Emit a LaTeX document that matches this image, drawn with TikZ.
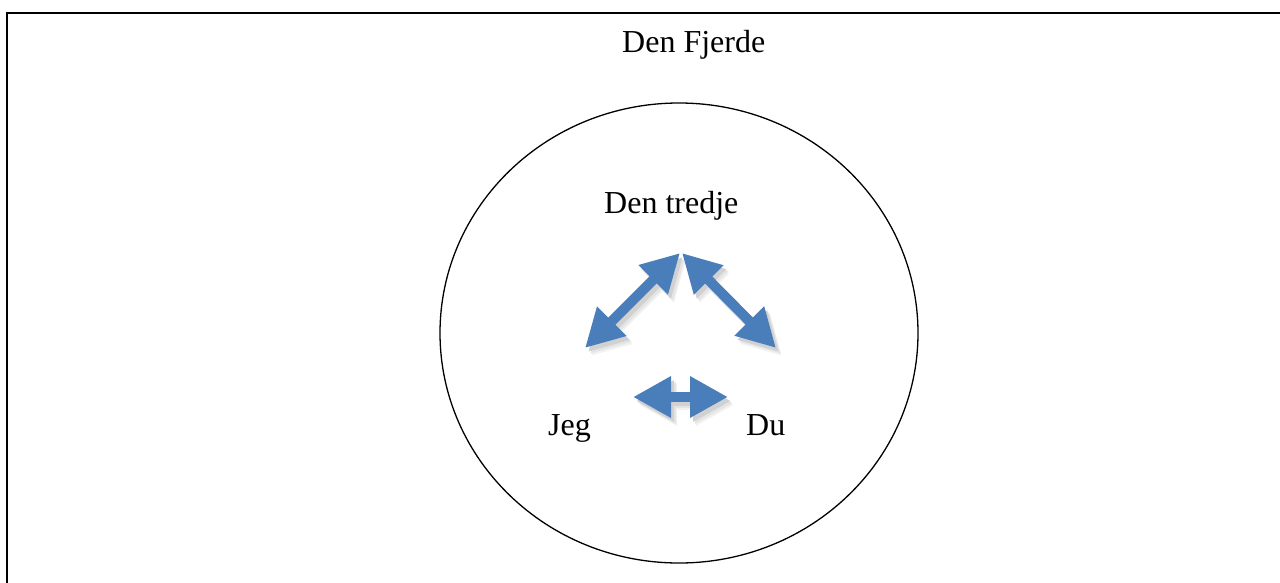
\documentclass[tikz,border=0pt]{standalone}
\usepackage{fontspec}
\setmainfont{Liberation Serif}
\usetikzlibrary{arrows.meta,shapes.geometric}
\begin{document}
\begin{tikzpicture}[x=1pt,y=-1pt,
  lbl/.style={font=\fontsize{32}{38}\selectfont, inner sep=0pt, anchor=base west},
  bigarrow/.style={draw=arrowblue, line width=10pt,
    {Triangle[width=39pt,length=38pt]}-{Triangle[width=39pt,length=38pt]}},
  shadowarrow/.style={draw=#1, line width=10pt,
    {Triangle[width=39pt,length=38pt]}-{Triangle[width=39pt,length=38pt]}}]
\definecolor{arrowblue}{RGB}{74,126,187}
\useasboundingbox (0,0) rectangle (1280,582);
\clip (0,0) rectangle (1280,582);
% outer frame (right and bottom edges beyond the picture)
\draw[line width=2pt] (7,600) -- (7,13) -- (1300,13);
% circle
\node (circ) [draw, line width=1.3pt, ellipse, minimum width=478pt, minimum height=460pt, inner sep=0pt] at (679,333) {};
% labels
\node[lbl] (fjerde) at (622,52) {Den Fjerde};
\node[lbl] (tredje) at (604,213) {Den tredje};
\node[lbl] (jeg) at (548,435) {Jeg};
\node[lbl] (du) at (746,435) {Du};
% arrow end points
\coordinate (l1) at (585,348);
\coordinate (l2) at (680,253);
\coordinate (r1) at (682,253);
\coordinate (r2) at (776,348);
\coordinate (h1) at (633,397);
\coordinate (h2) at (728,397);
% shadows
\foreach \dx/\dy/\c in {6/8/black!5,5/6/black!10,3/4/black!18}{
\draw[shadowarrow=\c] ([shift={(\dx,\dy)}]l1) -- ([shift={(\dx,\dy)}]l2);
\draw[shadowarrow=\c] ([shift={(\dx,\dy)}]r1) -- ([shift={(\dx,\dy)}]r2);
\draw[shadowarrow=\c] ([shift={(\dx,\dy)}]h1) -- ([shift={(\dx,\dy)}]h2);
}
% arrows
\draw[bigarrow] (l1) -- (l2);
\draw[bigarrow] (r1) -- (r2);
\draw[bigarrow] (h1) -- (h2);
\end{tikzpicture}
\end{document}
